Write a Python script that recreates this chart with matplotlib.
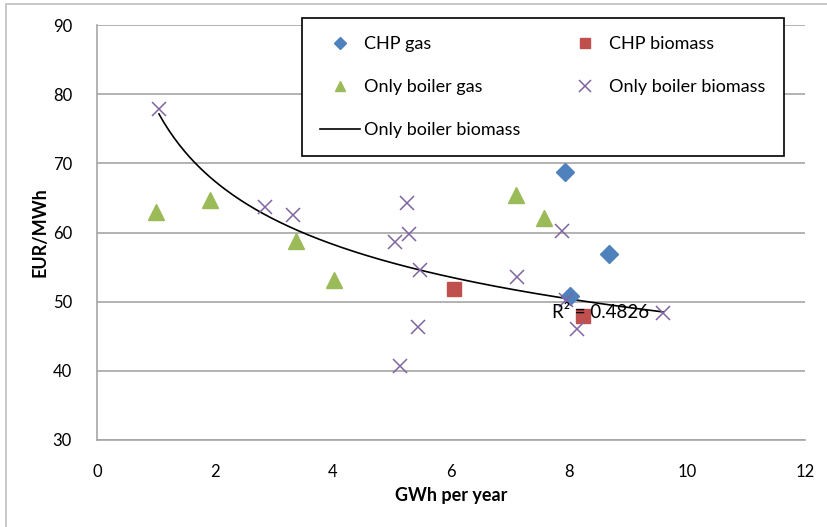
import matplotlib
matplotlib.use("Agg")
import matplotlib.pyplot as plt
from matplotlib.lines import Line2D
from matplotlib.patches import Rectangle
import numpy as np

plt.rcParams['font.family'] = ['Lato', 'DejaVu Sans']

# Data
chp_gas_x = [7.93, 8.67, 8.01]
chp_gas_y = [68.7, 56.9, 50.8]

chp_bio_x = [6.05, 8.24]
chp_bio_y = [51.8, 47.9]

boiler_gas_x = [1.00, 1.91, 3.38, 4.02, 7.11, 7.58]
boiler_gas_y = [63.0, 64.7, 58.8, 53.2, 65.4, 62.1]

boiler_bio_x = [1.05, 2.84, 3.33, 5.25, 5.29, 5.05, 5.48, 5.44, 5.14, 7.88, 7.12, 7.95, 8.14, 9.60]
boiler_bio_y = [77.8, 63.7, 62.6, 64.3, 59.8, 58.6, 54.6, 46.4, 40.7, 60.2, 53.5, 50.3, 46.1, 48.3]

r2_label = "R² = 0.4826"

# Colours (Excel 2007 palette)
c_blue = '#4F81BD'
c_red = '#C0504D'
c_green = '#9BBB59'
c_purple = '#8064A2'
grid_col = '#A6A6A6'

fig = plt.figure(figsize=(8.27, 5.27), dpi=100)
ax = fig.add_axes([97 / 827, 1 - 440 / 527, (805 - 97) / 827, (440 - 25) / 527])

# outer chart border (only left/top visible in the crop)
fig.patches.append(Rectangle((6 / 827, -0.1), 1.2, 1 - 4 / 527 + 0.1,
                             transform=fig.transFigure, fill=False,
                             edgecolor='#BFBFBF', lw=1.2))

# power trendline for "Only boiler biomass" (fit in log-log space)
bx = np.array(boiler_bio_x)
by = np.array(boiler_bio_y)
k, lnc = np.polyfit(np.log(bx), np.log(by), 1)
tx = np.linspace(bx.min(), bx.max(), 200)
ax.plot(tx, np.exp(lnc) * tx ** k, color='black', lw=1.2, zorder=2)

ax.plot(chp_gas_x, chp_gas_y, 'D', color=c_blue, ms=9, ls='none', zorder=3)
ax.plot(chp_bio_x, chp_bio_y, 's', color=c_red, ms=10, ls='none', zorder=3)
ax.plot(boiler_gas_x, boiler_gas_y, '^', color=c_green, ms=11, ls='none', zorder=3)
ax.plot(boiler_bio_x, boiler_bio_y, 'x', color=c_purple, ms=10, mew=1.1, ls='none', zorder=3)

ax.text(7.72, 48.4, r2_label, fontsize=13.5, ha='left', va='center', zorder=4)

ax.set_xlim(0, 12)
ax.set_ylim(30, 90)
ax.set_xticks(range(0, 13, 2))
ax.set_yticks(range(30, 91, 10))
ax.yaxis.grid(True, color=grid_col, lw=1.2)
ax.set_axisbelow(True)
for s in ['top', 'right']:
    ax.spines[s].set_visible(False)
for s in ['left', 'bottom']:
    ax.spines[s].set_color(grid_col)
    ax.spines[s].set_linewidth(1.2)
ax.tick_params(axis='both', length=0, labelsize=12, colors='black')
ax.tick_params(axis='x', pad=17)
ax.tick_params(axis='y', pad=18)

ax.set_xlabel("GWh per year", fontsize=13, fontweight='bold', va='center')
ax.xaxis.set_label_coords(0.5, (440 - 495) / 415)
ax.set_ylabel("EUR/MWh", fontsize=13, fontweight='bold', va='center')
ax.yaxis.set_label_coords((40 - 97) / 708, 0.5)

handles = [
    Line2D([], [], marker='D', color=c_blue, ls='none', ms=6.5),
    Line2D([], [], marker='^', color=c_green, ls='none', ms=7.5),
    Line2D([], [], color='black', lw=1.2),
    Line2D([], [], marker='s', color=c_red, ls='none', ms=7.5),
    Line2D([], [], marker='x', color=c_purple, ls='none', ms=8, mew=1.1),
]
labels = ["CHP gas", "Only boiler gas", "Only boiler biomass",
          "CHP biomass", "Only boiler biomass"]
leg = fig.legend(handles, labels, ncol=2, loc='upper left',
                 bbox_to_anchor=(302 / 827, 1 - 18 / 527),
                 fontsize=13, frameon=True, fancybox=False,
                 edgecolor='black', framealpha=1, handlelength=2.2,
                 handletextpad=0.25, labelspacing=1.5, columnspacing=2.45,
                 borderpad=1.0, borderaxespad=0)
leg.get_frame().set_linewidth(1.2)

fig.savefig("out.png", dpi=100, facecolor='white')
